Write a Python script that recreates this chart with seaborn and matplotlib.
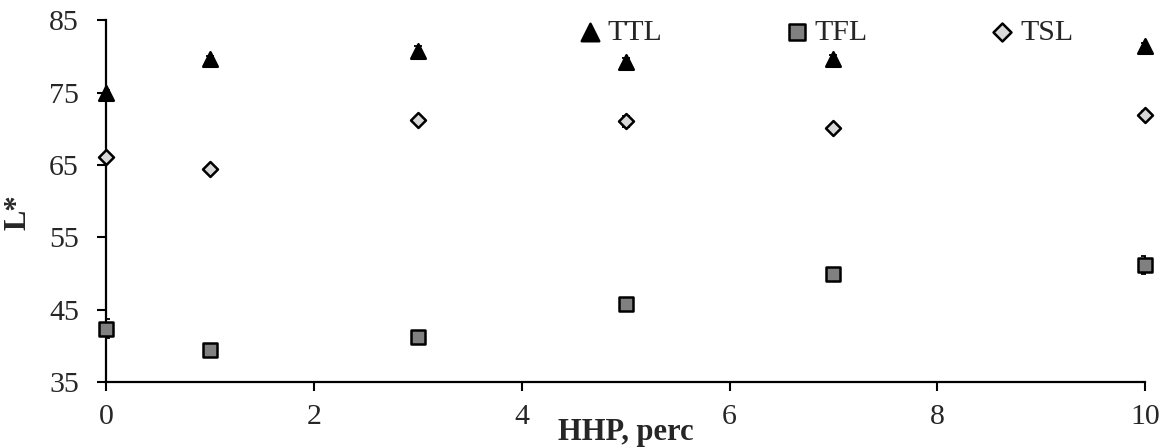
import numpy as np
import pandas as pd
import matplotlib
matplotlib.use('Agg')
import matplotlib.pyplot as plt
import seaborn as sns

# HHP level (perc) and L* values
hhp = [0, 1, 3, 5, 7, 10]
ttl = [74.9, 79.6, 80.7, 79.2, 79.6, 81.4]
tfl = [42.4, 39.5, 41.2, 45.8, 50.0, 51.2]
tsl = [66.1, 64.4, 71.2, 71.0, 70.1, 71.9]
ttl_err = [0.5, 0.5, 0.7, 0.5, 0.6, 0.5]
tfl_err = [1.3, 0.4, 0.4, 0.4, 0.4, 1.2]
tsl_err = [0.6, 0.5, 0.4, 0.7, 0.4, 0.5]

sns.set_style('ticks')
plt.rcParams['font.family'] = ['Liberation Serif', 'DejaVu Serif']
plt.rcParams['font.size'] = 21.5

fig, ax = plt.subplots(figsize=(11.65, 4.47), dpi=100)
fig.subplots_adjust(left=0.091, right=0.983, top=0.955, bottom=0.145)

series = [
    ('TTL', ttl, ttl_err, '^', 'black', 110),
    ('TFL', tfl, tfl_err, 's', '#808080', 90),
    ('TSL', tsl, tsl_err, 'D', '#d9d9d9', 58),
]
for name, vals, err, mk, col, size in series:
    ax.errorbar(hhp, vals, yerr=err, fmt='none', ecolor='black',
                elinewidth=1.3, capsize=3, capthick=1.3, zorder=2)
    sns.scatterplot(x=hhp, y=vals, marker=mk, color=col, edgecolor='black',
                    linewidth=1.8, s=size, ax=ax, label=name, zorder=3)

ax.set_xlim(0, 10)
ax.set_ylim(35, 85)
ax.set_xticks([0, 2, 4, 6, 8, 10])
ax.set_yticks([35, 45, 55, 65, 75, 85])
ax.tick_params(axis='both', direction='out', length=6.5, width=1.5,
               color='black', labelsize=21.5)
ax.tick_params(axis='y', pad=13)
ax.tick_params(axis='x', pad=9)
for s in ['left', 'bottom']:
    ax.spines[s].set_linewidth(1.6)
    ax.spines[s].set_color('black')
sns.despine(ax=ax)

ax.set_xlabel('HHP, perc', fontsize=22, fontweight='bold')
ax.xaxis.set_label_coords(0.5, -0.138)
ax.xaxis.label.set_va('center')
ax.set_ylabel('L*', fontsize=22, fontweight='bold')
ax.yaxis.set_label_coords(-0.085, 0.47)
ax.yaxis.label.set_va('center')

leg = ax.legend(loc='center', bbox_to_anchor=(0.694, 0.967), ncol=3,
                frameon=False, handlelength=0.6, handletextpad=0.3,
                columnspacing=4.2, fontsize=21.5, borderaxespad=0,
                markerscale=1.2)

for c in ax.collections:
    c.set_clip_on(False)

fig.savefig('out.png', dpi=100)
